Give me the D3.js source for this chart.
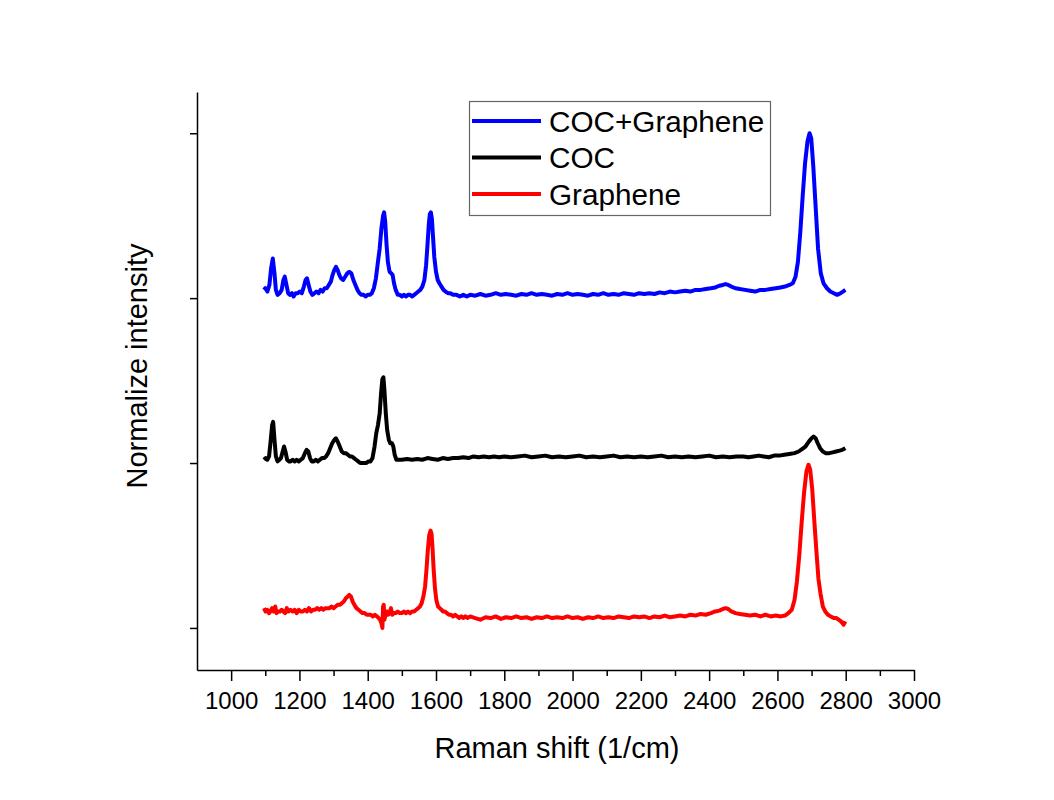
<!DOCTYPE html>
<html>
<head>
<meta charset="utf-8" />
<title>Raman spectra</title>
<script src="https://d3js.org/d3.v7.min.js"></script>
<style>
body { margin: 0; background: #fff; }
svg text { font-family: "Liberation Sans", Arial, sans-serif; fill: #000; }
.axis path, .axis line { stroke: #000; stroke-width: 1.5px; }
</style>
</head>
<body>
<script>
// spectra: [Raman shift, normalized intensity (offset)]
var cocGraphene = [
  [1096,2.05],[1100,2.06],[1106,2.04],[1112,2.08],[1117,2.18],[1122,2.24],[1127,2.15],[1131,2.05],
  [1136,2.02],[1142,2.03],[1148,2.05],[1153,2.11],[1157,2.13],[1162,2.08],[1167,2.03],[1172,2.02],
  [1178,2.03],[1183,2.01],[1189,2.03],[1195,2.03],[1201,2.04],[1207,2.03],[1213,2.07],[1218,2.11],
  [1222,2.12],[1227,2.08],[1232,2.04],[1238,2.02],[1244,2.03],[1250,2.04],[1256,2.03],[1262,2.05],
  [1268,2.04],[1274,2.06],[1280,2.06],[1286,2.08],[1292,2.10],[1297,2.14],[1302,2.17],[1307,2.19],
  [1312,2.17],[1317,2.14],[1322,2.12],[1328,2.11],[1334,2.13],[1340,2.15],[1346,2.16],[1352,2.15],
  [1358,2.11],[1364,2.08],[1370,2.05],[1376,2.03],[1382,2.02],[1388,2.02],[1394,2.01],[1400,2.02],
  [1406,2.02],[1412,2.03],[1418,2.06],[1424,2.12],[1430,2.22],[1435,2.30],[1440,2.42],[1445,2.50],
  [1448,2.52],[1451,2.47],[1455,2.33],[1459,2.22],[1464,2.16],[1469,2.15],[1473,2.14],[1477,2.09],
  [1482,2.05],[1488,2.02],[1494,2.02],[1500,2.01],[1506,2.02],[1512,2.01],[1518,2.02],[1524,2.02],
  [1530,2.01],[1536,2.02],[1542,2.03],[1548,2.04],[1554,2.05],[1560,2.07],[1566,2.11],[1571,2.20],
  [1575,2.32],[1579,2.45],[1582,2.51],[1585,2.52],[1588,2.48],[1591,2.38],[1595,2.25],[1600,2.16],
  [1605,2.11],[1610,2.09],[1616,2.07],[1622,2.05],[1628,2.04],[1635,2.03],[1642,2.03],[1650,2.02],
  [1660,2.02],[1670,2.01],[1680,2.02],[1690,2.01],[1700,2.02],[1715,2.015],[1730,2.025],[1745,2.015],
  [1760,2.02],[1775,2.03],[1790,2.02],[1805,2.025],[1820,2.02],[1835,2.015],[1850,2.025],[1865,2.02],
  [1880,2.03],[1895,2.02],[1910,2.025],[1925,2.02],[1940,2.015],[1955,2.025],[1970,2.02],[1985,2.03],
  [2000,2.02],[2015,2.025],[2030,2.02],[2045,2.015],[2060,2.025],[2075,2.02],[2090,2.03],[2105,2.02],
  [2120,2.025],[2135,2.02],[2150,2.03],[2165,2.025],[2180,2.02],[2195,2.03],[2210,2.025],[2225,2.03],
  [2240,2.025],[2255,2.035],[2270,2.03],[2285,2.04],[2300,2.035],[2315,2.04],[2330,2.045],[2345,2.04],
  [2360,2.05],[2375,2.05],[2390,2.055],[2405,2.06],[2418,2.065],[2430,2.075],[2440,2.08],[2448,2.085],
  [2456,2.08],[2465,2.07],[2477,2.06],[2490,2.055],[2505,2.05],[2520,2.045],[2535,2.04],[2550,2.05],
  [2565,2.05],[2580,2.055],[2595,2.06],[2609,2.065],[2622,2.07],[2635,2.08],[2645,2.09],[2653,2.13],
  [2660,2.22],[2667,2.40],[2674,2.62],[2681,2.82],[2688,2.95],[2694,3.00],[2699,2.97],[2705,2.80],
  [2712,2.55],[2719,2.30],[2727,2.15],[2735,2.09],[2745,2.06],[2755,2.04],[2765,2.03],[2775,2.02],
  [2785,2.03],[2792,2.04],[2799,2.05]
];

var coc = [
  [1096,1.02],[1101,1.03],[1106,1.02],[1111,1.04],[1116,1.14],[1120,1.23],[1123,1.25],[1127,1.14],
  [1131,1.04],[1136,1.01],[1141,1.02],[1146,1.03],[1151,1.07],[1155,1.10],[1159,1.07],[1164,1.02],
  [1169,1.01],[1174,1.01],[1180,1.02],[1186,1.01],[1192,1.02],[1198,1.01],[1204,1.02],[1210,1.03],
  [1216,1.06],[1221,1.08],[1226,1.07],[1231,1.03],[1236,1.01],[1242,1.01],[1248,1.02],[1254,1.01],
  [1260,1.02],[1266,1.03],[1272,1.03],[1278,1.04],[1284,1.06],[1290,1.09],[1296,1.12],[1302,1.14],
  [1307,1.15],[1312,1.13],[1318,1.10],[1324,1.07],[1330,1.06],[1336,1.06],[1342,1.05],[1348,1.04],
  [1354,1.04],[1360,1.03],[1366,1.02],[1372,1.01],[1378,1.00],[1384,1.00],[1390,1.00],[1396,1.00],
  [1402,1.01],[1408,1.01],[1414,1.03],[1420,1.10],[1425,1.18],[1430,1.23],[1435,1.30],[1439,1.42],
  [1443,1.51],[1446,1.52],[1449,1.44],[1453,1.30],[1457,1.20],[1462,1.14],[1466,1.12],[1471,1.12],
  [1475,1.10],[1479,1.05],[1484,1.02],[1490,1.02],[1500,1.02],[1515,1.025],[1530,1.02],[1545,1.025],
  [1560,1.02],[1575,1.03],[1590,1.025],[1605,1.02],[1620,1.03],[1635,1.025],[1650,1.03],[1665,1.03],
  [1680,1.035],[1695,1.03],[1710,1.04],[1725,1.035],[1740,1.04],[1755,1.035],[1770,1.04],[1785,1.035],
  [1800,1.04],[1820,1.035],[1840,1.04],[1860,1.045],[1880,1.035],[1900,1.04],[1920,1.045],[1940,1.035],
  [1960,1.04],[1980,1.035],[2000,1.04],[2020,1.045],[2040,1.035],[2060,1.04],[2080,1.035],[2100,1.04],
  [2120,1.045],[2140,1.035],[2160,1.04],[2180,1.035],[2200,1.04],[2220,1.035],[2240,1.04],[2260,1.045],
  [2280,1.035],[2300,1.04],[2320,1.035],[2340,1.04],[2360,1.035],[2380,1.04],[2400,1.045],[2420,1.035],
  [2440,1.04],[2460,1.035],[2480,1.04],[2500,1.04],[2515,1.035],[2530,1.04],[2545,1.045],[2560,1.04],
  [2575,1.035],[2590,1.045],[2605,1.045],[2620,1.05],[2635,1.055],[2650,1.06],[2662,1.07],[2672,1.085],
  [2682,1.10],[2692,1.13],[2700,1.15],[2706,1.16],[2712,1.15],[2718,1.12],[2725,1.09],[2733,1.07],
  [2742,1.06],[2752,1.06],[2762,1.065],[2772,1.07],[2782,1.075],[2790,1.08],[2799,1.09]
];

var graphene = [
  [1096,0.12],[1101,0.10],[1106,0.11],[1111,0.09],[1115,0.10],[1120,0.12],[1125,0.10],[1129,0.13],
  [1133,0.09],[1138,0.10],[1143,0.10],[1148,0.11],[1153,0.10],[1158,0.09],[1163,0.12],[1168,0.10],
  [1174,0.11],[1180,0.10],[1186,0.11],[1192,0.09],[1198,0.11],[1204,0.10],[1210,0.10],[1216,0.11],
  [1222,0.10],[1228,0.12],[1234,0.10],[1240,0.11],[1246,0.11],[1252,0.12],[1258,0.11],[1264,0.12],
  [1270,0.11],[1276,0.12],[1282,0.12],[1288,0.12],[1294,0.13],[1300,0.12],[1306,0.13],[1312,0.14],
  [1318,0.14],[1324,0.15],[1330,0.16],[1336,0.18],[1341,0.19],[1346,0.20],[1351,0.19],[1356,0.16],
  [1361,0.14],[1367,0.12],[1373,0.11],[1379,0.10],[1385,0.09],[1391,0.09],[1397,0.08],[1403,0.08],
  [1409,0.08],[1415,0.07],[1421,0.08],[1427,0.07],[1432,0.06],[1436,0.05],[1440,0.03],[1443,0.00],
  [1445,0.13],[1447,0.14],[1449,0.05],[1452,0.08],[1456,0.10],[1460,0.08],[1464,0.09],[1468,0.12],
  [1472,0.08],[1477,0.09],[1482,0.09],[1488,0.10],[1494,0.09],[1500,0.09],[1506,0.10],[1512,0.09],
  [1518,0.10],[1524,0.09],[1530,0.10],[1536,0.10],[1542,0.11],[1548,0.12],[1553,0.13],[1558,0.15],
  [1563,0.19],[1568,0.25],[1572,0.35],[1576,0.47],[1580,0.56],[1584,0.59],[1587,0.57],[1590,0.48],
  [1593,0.36],[1597,0.24],[1601,0.17],[1606,0.13],[1611,0.12],[1616,0.11],[1621,0.10],[1626,0.10],
  [1632,0.09],[1638,0.08],[1644,0.08],[1650,0.07],[1656,0.08],[1662,0.07],[1668,0.06],[1674,0.07],
  [1680,0.06],[1686,0.07],[1692,0.06],[1700,0.07],[1715,0.06],[1730,0.05],[1745,0.065],[1760,0.06],
  [1775,0.07],[1790,0.055],[1805,0.065],[1820,0.06],[1835,0.07],[1850,0.06],[1865,0.065],[1880,0.055],
  [1895,0.065],[1910,0.06],[1925,0.07],[1940,0.06],[1955,0.065],[1970,0.06],[1985,0.07],[2000,0.06],
  [2015,0.065],[2030,0.055],[2045,0.065],[2060,0.06],[2075,0.07],[2090,0.06],[2105,0.065],[2120,0.06],
  [2135,0.07],[2150,0.065],[2165,0.06],[2180,0.07],[2195,0.065],[2210,0.07],[2225,0.06],[2240,0.07],
  [2255,0.065],[2270,0.075],[2285,0.065],[2300,0.07],[2315,0.075],[2330,0.07],[2345,0.08],[2360,0.075],
  [2375,0.085],[2390,0.08],[2405,0.09],[2418,0.10],[2430,0.105],[2440,0.115],[2448,0.12],[2456,0.115],
  [2465,0.10],[2477,0.09],[2490,0.085],[2505,0.08],[2520,0.075],[2535,0.08],[2550,0.07],[2565,0.08],
  [2580,0.07],[2595,0.075],[2610,0.07],[2622,0.075],[2632,0.09],[2642,0.11],[2650,0.17],[2657,0.28],
  [2664,0.44],[2671,0.64],[2678,0.82],[2685,0.95],[2691,0.99],[2696,0.96],[2702,0.84],[2708,0.65],
  [2714,0.47],[2720,0.30],[2726,0.21],[2733,0.13],[2740,0.10],[2748,0.08],[2756,0.07],[2765,0.06],
  [2772,0.06],[2780,0.05],[2786,0.04],[2790,0.03],[2794,0.02],[2799,0.04]
];

var seriesNames = ["COC+Graphene", "COC", "Graphene"];
var seriesData = [cocGraphene, coc, graphene];
var seriesColors = ["#0000ff", "#000000", "#ff0000"];

var xMajorTicks = [1000,1200,1400,1600,1800,2000,2200,2400,2600,2800,3000];
var xMinorTicks = [1100,1300,1500,1700,1900,2100,2300,2500,2700,2900];
var yTicks = [0,1,2,3];

var width = 1054;
var height = 800;

var svg = d3.select("body")
  .append("svg")
  .attr("width", width)
  .attr("height", height);

var x = d3.scaleLinear().domain([900, 3000]).range([197, 914]);
var y = d3.scaleLinear().domain([-0.255, 3.25]).range([670, 92]);

// minor x ticks first, major axis on top
svg.append("g")
  .attr("class", "axis")
  .attr("transform", "translate(0,670)")
  .call(d3.axisBottom(x).tickValues(xMinorTicks).tickSize(6).tickSizeOuter(0).tickFormat(""))
  .select(".domain").remove();

var xAxis = svg.append("g")
  .attr("class", "axis")
  .attr("transform", "translate(0,670)")
  .call(d3.axisBottom(x).tickValues(xMajorTicks).tickSize(11).tickSizeOuter(0).tickPadding(11).tickFormat(d3.format("d")));
xAxis.selectAll("text")
  .style("font-size", "24px")
  .style("font-family", "'Liberation Sans', Arial, sans-serif")
  .attr("fill", "#000");

svg.append("g")
  .attr("class", "axis")
  .attr("transform", "translate(197,0)")
  .call(d3.axisLeft(y).tickValues(yTicks).tickSize(7).tickSizeOuter(0).tickFormat(""));

// spectra
var line = d3.line()
  .x(function(d){ return x(d[0]); })
  .y(function(d){ return y(d[1]); });

svg.append("g")
  .selectAll("path")
  .data(seriesData.slice().reverse())
  .enter().append("path")
  .attr("fill", "none")
  .attr("stroke", function(d, i){ return seriesColors[seriesData.length - 1 - i]; })
  .attr("stroke-width", 4)
  .attr("stroke-linejoin", "round")
  .attr("d", line);

// axis titles
svg.append("text")
  .attr("x", 557)
  .attr("y", 758)
  .attr("text-anchor", "middle")
  .style("font-size", "29px")
  .text("Raman shift (1/cm)");

svg.append("text")
  .attr("transform", "translate(147,366) rotate(-90)")
  .attr("text-anchor", "middle")
  .style("font-size", "29px")
  .text("Normalize intensity");

// legend
var legend = svg.append("g");
legend.append("rect")
  .attr("x", 469.5).attr("y", 101.5)
  .attr("width", 301).attr("height", 114)
  .attr("fill", "#fff")
  .attr("stroke", "#666")
  .attr("stroke-width", 1.2);

var rows = legend.selectAll("g.row")
  .data(seriesNames)
  .enter().append("g")
  .attr("class", "row")
  .attr("transform", function(d, i){ return "translate(0," + (121 + i * 36.5) + ")"; });

rows.append("line")
  .attr("x1", 472).attr("x2", 541)
  .attr("stroke", function(d, i){ return seriesColors[i]; })
  .attr("stroke-width", 4);

rows.append("text")
  .attr("x", 549)
  .attr("y", 10.5)
  .style("font-size", "29.7px")
  .text(function(d){ return d; });
</script>
</body>
</html>
